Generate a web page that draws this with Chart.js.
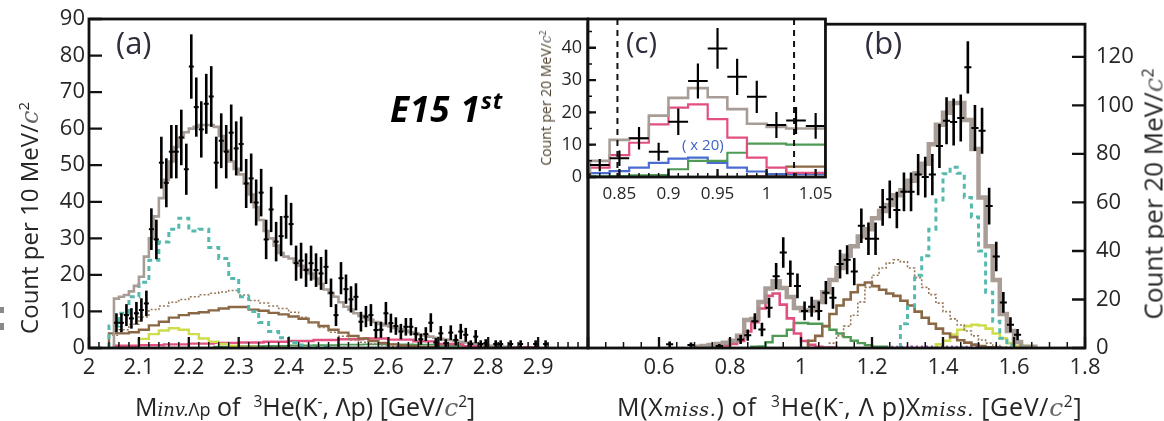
<!DOCTYPE html>
<html>
<head>
<meta charset="utf-8">
<script src="https://cdn.jsdelivr.net/npm/chart.js@4.4.1/dist/chart.umd.min.js"></script>
<style>
html, body { margin: 0; padding: 0; background: #fff; }
#page { position: relative; width: 1164px; height: 421px; overflow: hidden; font-family: 'Open Sans', sans-serif; color: #262626; }
.box { position: absolute; }
.lbl { position: absolute; white-space: nowrap; line-height: 1; }
.rot { position: absolute; white-space: nowrap; line-height: 1; transform: translate(-50%, -50%) rotate(-90deg); }
.mi { font-family: 'DejaVu Serif', serif; font-style: italic; }
sup { font-size: 0.62em; vertical-align: 0.55em; }
</style>
</head>
<body>
<div id="page">
  <div class="box" style="left:0;top:0;width:600px;height:421px"><canvas id="cA"></canvas></div>
  <div class="box" style="left:560px;top:0;width:604px;height:421px"><canvas id="cB"></canvas></div>
  <div class="box" style="left:500px;top:0;width:340px;height:215px"><canvas id="cC"></canvas></div>

  <div class="lbl" style="left:116px;top:27px;font-size:31px;color:#2e2e3c">(a)</div>
  <div class="lbl" style="left:865px;top:27px;font-size:31px;color:#2e2e3c">(b)</div>
  <div class="lbl" style="left:626px;top:27px;font-size:29px;color:#2e2e3c">(c)</div>
  <div class="lbl" style="left:390px;top:84px;font:italic 700 35px 'Open Sans', sans-serif;letter-spacing:1px;color:#000">E15 1<sup style="font-size:0.66em">st</sup></div>
  <div class="lbl" style="left:682px;top:137px;font-size:15px;color:#3f63c8">( x 20)</div>

  <div class="rot" style="left:29px;top:218px;font-size:24px">Count per 10 MeV/<span class="mi" style="color:#666">c</span><sup>2</sup></div>
  <div class="rot" style="left:1153px;top:194px;font-size:26px">Count per 20 MeV/<span class="mi" style="color:#666">c</span><sup>2</sup></div>
  <div class="rot" style="left:546px;top:98px;font-size:14px;color:#4a3c28">Count per 20 MeV/<span class="mi" style="color:#666">c</span><sup>2</sup></div>

  <div class="lbl" style="left:135px;top:394px;font-size:25px">M<span class="mi" style="font-size:18px">inv.</span><span style="font-size:18px">Λp</span> of &nbsp;<sup>3</sup>He(K<sup>-</sup>, Λp) [GeV/<span class="mi" style="color:#666">c</span><sup>2</sup>]</div>
  <div class="lbl" style="left:617px;top:394px;font-size:25px;letter-spacing:0.7px">M(X<span class="mi" style="font-size:19px">miss.</span>) of &nbsp;<sup>3</sup>He(K<sup>-</sup>, Λ p)X<span class="mi" style="font-size:19px">miss.</span> [GeV/<span class="mi" style="color:#666">c</span><sup>2</sup>]</div>

  <div class="box" style="left:0;top:307px;width:4px;height:6px;background:#8a8a8a"></div>
  <div class="box" style="left:0;top:323px;width:4px;height:7px;background:#8a8a8a"></div>
</div>
<script>
// ---- panel (a): invariant mass, 10 MeV bins ----
const aBinStart = 2.055, aBinW = 0.01;
const aCounts = [6.9, 6.9, 9.0, 8.1, 9.5, 10.4, 12.2, 32.5, 29.7, 50.7, 45.2, 53.7, 53.7, 57.6, 48.9, 77.0, 65.9, 59.8, 66.8, 68.8,
  50.7, 56.7, 53.7, 58.9, 54.6, 55.8, 45.0, 46.4, 39.8, 42.5, 29.7, 37.9, 29.1, 30.6, 35.9, 33.9, 23.2, 23.9, 21.3, 23.2,
  21.3, 20.4, 22.2, 15.1, 9.0, 19.1, 16.1, 13.3, 14.0, 7.2, 8.6, 9.0, 4.9, 5.0, 9.5, 6.8, 6.0, 4.5, 5.8, 5.8,
  3.8, 2.4, 3.8, 6.9, 1.5, 4.0, 1.3, 4.2, 2.2, 4.5, 3.6, 1.1, 3.1, 1.1, 1.3, null, 1.1, 1.1, null, 1.1,
  null, 1.1, null, null, 1.1, null, 1.1];
const aErrors = [2.6, 2.6, 3.0, 2.8, 3.1, 3.2, 3.5, 5.7, 5.4, 7.1, 6.7, 7.3, 7.3, 7.6, 7.0, 8.8, 8.1, 7.7, 8.2, 8.3,
  7.1, 7.5, 7.3, 7.7, 7.4, 7.5, 6.7, 6.8, 6.3, 6.5, 5.4, 6.2, 5.4, 5.5, 6.0, 5.8, 4.8, 4.9, 4.6, 4.8,
  4.6, 4.5, 4.7, 3.9, 3.0, 4.4, 4.0, 3.6, 3.7, 2.7, 2.9, 3.0, 2.2, 2.2, 3.1, 2.6, 2.4, 2.1, 2.4, 2.4,
  1.9, 1.5, 1.9, 2.6, 1.2, 2.0, 1.1, 2.0, 1.5, 2.1, 1.9, 1.0, 1.8, 1.0, 1.1, null, 1.0, 1.0, null, 1.0,
  null, 1.0, null, null, 1.0, null, 1.0];
const aTotal = [11, 13.5, 14, 14.5, 15.5, 17, 19.5, 25, 30, 36, 41, 46, 51, 55, 57.5, 59, 60, 60.5, 61, 61,
  61, 60.5, 58, 54, 51, 49, 47.5, 45, 42, 38.5, 35, 32, 30, 28, 26, 25, 24.5, 23.5, 22.5, 21.5,
  20.4, 19, 17.5, 16, 15, 14, 12.5, 11.3, 10.5, 9.5, 8.8, 8.2, 7.7, 7.1, 6.6, 6.2, 5.9, 5.5, 5.1, 4.7,
  4.3, 4.0, 3.7, 3.4, 3.1, 2.8, 2.5, 2.3, 2.1, 1.9, 1.7, 1.5, 1.3, 1.1, 0.9, 0.8, 0.6, 0.5, 0.4, 0.3, 0.2, 0.1];
const aCompStart = 2.05, aCompW = 0.02;
const aCyan = [2, 6, 9.5, 14, 18, 24, 29, 32.5, 35.5, 32, 32.5, 27.5, 24.5, 19, 14, 10, 7, 4.5, 2.8, 1.5, 0.8, 0.3];
const aBrownDot = [2, 3.5, 5, 6.5, 8.5, 10.5, 11.5, 12.5, 13.3, 14, 14.6, 15, 15.3, 15.7, 14.5, 13, 12.3, 11.5, 10.8, 9.8,
  8.4, 7, 5.6, 4.3, 3.2, 2.2, 1.6, 1.1, 0.8, 0.5, 0.3];
const aBrown = [3.5, 4, 4, 4.3, 5, 6.2, 7.2, 8.3, 9, 9.5, 9.8, 10.3, 10.8, 11.2, 11.2, 10.5, 10.2, 9.6, 9.2, 8.6,
  8, 7, 6, 5, 4.2, 3.3, 2.6, 1.9, 1.4, 1.0, 0.7, 0.5, 0.3];
const aYellowStart = 2.11;
const aYellow = [1.2, 2.5, 3.8, 4.8, 5.4, 5.0, 3.8, 2.6, 1.7, 1.1, 0.6, 0.3];
const aLowW = 0.05, aPinkStart = 2.075, aGreenStart = 2.275;
const aPink = [0.4, 0.6, 0.8, 1.0, 1.2, 1.4, 1.5, 1.7, 1.9, 2.2, 2.4, 2.6, 2.3, 1.8, 1.1, 0.5, 0.2];
const aGreen = [0.3, 0.4, 0.5, 0.6, 0.7, 0.8, 0.9, 1.0, 1.0, 0.9, 0.6, 0.3];

// ---- panel (b): missing mass, 20 MeV bins ----
const bBinW = 0.02;
const bMass = [0.63, 0.69, 0.77, 0.83, 0.85, 0.87, 0.89, 0.91, 0.93, 0.95, 0.97, 0.99, 1.01, 1.03, 1.05, 1.07, 1.09, 1.11, 1.13, 1.15,
  1.17, 1.19, 1.21, 1.23, 1.25, 1.27, 1.29, 1.31, 1.33, 1.35, 1.37, 1.39, 1.41, 1.43, 1.45, 1.47, 1.49, 1.51, 1.53, 1.55,
  1.57, 1.59, 1.61];
const bCounts = [1.5, 1.2, 0.8, 3.5, 5.3, 11, 7.6, 16.6, 29.6, 39.4, 30.6, 25.6, 15.3, 17, 15.3, 22.8, 20.7, 34.6, 36.4, 31.5,
  50.4, 45, 45, 58, 61.3, 56.9, 64.4, 64.4, 71.5, 70.5, 71.5, 83.3, 93.7, 93.2, 94.8, 115.7, 90.7, 89.6, 58.5, 37.7,
  18.8, 9.6, 5.5];
const bErrors = [1.2, 1.1, 0.9, 1.9, 2.3, 3.3, 2.8, 4.1, 5.4, 6.3, 5.5, 5.1, 3.9, 4.1, 3.9, 4.8, 4.5, 5.9, 6.0, 5.6,
  7.1, 6.7, 6.7, 7.6, 7.8, 7.5, 8.0, 8.0, 8.5, 8.4, 8.5, 9.1, 9.7, 9.7, 9.7, 10.8, 9.5, 9.5, 7.6, 6.1,
  4.3, 3.1, 2.3];
const bGrayStart = 0.71;
const bGray = [0.3, 0.5, 0.8, 1.2, 1.6, 2.2, 3, 5, 11.5, 12, 19, 24.5, 27.5, 24.7, 21, 16.5, 15.5, 15.5, 19, 23,
  28, 33, 38, 42, 46, 49, 53.5, 56.5, 59, 63, 65, 69, 72, 76, 84, 92, 97, 101, 101, 94,
  82, 62, 42, 28, 14, 7, 2.5, 0.5];
const bPinkStart = 0.77;
const bPink = [0.3, 0.6, 1.0, 1.7, 2.9, 6.8, 10.6, 16.3, 21.5, 22.5, 17.9, 12.2, 6, 2.9, 1.3, 0.5, 0.2];
const bGreenStart = 0.87;
const bGreen = [0.3, 0.5, 0.6, 2.4, 5, 5, 7.5, 10.3, 10.3, 10, 10, 9, 7.5, 6, 4.5, 3, 2, 1.2, 0.5];
const bBrownStart = 1.03;
const bBrown = [0.5, 3, 5, 9, 14, 17.5, 20, 23, 26, 27, 25.5, 24, 22.5, 21.5, 19.5, 17.5, 15, 12.5, 10, 8,
  6, 4.5, 3.2, 2.2, 1.4, 0.8, 0.3];
const bBrownDotStart = 1.09;
const bBrownDot = [0.5, 2, 5, 9, 13.5, 19, 25, 30, 33, 35, 36.4, 35.5, 33, 29, 25, 22, 18.5, 15, 12, 9.5,
  7, 5, 3.3, 2, 1, 0.3];
const bCyanStart = 1.29;
const bCyan = [0.5, 10, 17, 30, 38, 49, 61, 71.8, 74.5, 72, 62, 54, 40, 23, 11, 4, 1.4];
const bYellowStart = 1.39;
const bYellow = [0.5, 1.5, 3, 5.5, 7.5, 9, 9.6, 9.3, 8, 6, 4, 2, 0.8];
const bPurpleStart = 1.25, bPurpleW = 0.04;
const bPurple = [0.5, 0.6, 0.6, 0.7, 0.7, 0.7, 0.6, 0.5, 0.4, 0.3];

// ---- inset (c): zoom of the low missing-mass peak ----
const cStart = 0.83, cBinW = 0.02;
const cCounts = [3.7, 5.8, 12, 7.8, 17.1, 29.7, 39.8, 31, 24.8, 16.1, 17.5, 15.8];
const cErrors = [1.9, 2.4, 3.5, 2.8, 4.1, 5.4, 6.3, 5.6, 5.0, 4.0, 4.2, 4.0];
const cGray = [3, 5, 11.5, 12, 19, 24.5, 27.5, 24.7, 21, 16.5, 15.5, 15];
const cPink = [1.7, 2.9, 6.8, 10.6, 16.3, 21.5, 22.5, 17.9, 12.2, 6, 2.9, 1.3];
const cGreen = [0.2, 0.2, 0.3, 0.5, 0.6, 2.4, 5, 5, 7.5, 10.3, 10.3, 10];
const cBlue = [1.2, 1.2, 1.8, 2.9, 4.4, 5.7, 6.0, 4.4, 2.9, 1.7, 0.9, 0.9];
const cBrown = [0, 0, 0, 0, 0, 0, 0, 0, 0, 0.3, 0.5, 3.2];
const cCuts = [0.848, 1.028];

// colours
const GRAY = '#a89d96', CYAN = '#56b9ae', BROWN = '#8a6845', BROWNDOT = '#96785a',
  YELLOW = '#cfdc4c', PINK = '#e2507f', GREEN = '#4f9b56', BLUE = '#4a6cd0', PURPLE = '#9a55b5';

Chart.defaults.font.family = "'Open Sans', sans-serif";
Chart.defaults.color = '#262626';

// histogram outline from bin centres
function hist(start, w, vals) {
  var pts = [{x: start - w / 2, y: 0}];
  vals.forEach(function (v, i) { pts.push({x: start - w / 2 + i * w, y: v}); });
  var end = start - w / 2 + vals.length * w;
  pts.push({x: end, y: vals[vals.length - 1]});
  pts.push({x: end, y: 0});
  return pts;
}
function line(pts, color, width, dash) {
  return {data: pts, borderColor: color, borderWidth: width, borderDash: dash || [], stepped: 'after',
    pointRadius: 0, fill: false, tension: 0, yAxisID: 'y'};
}
function points(xs, ys, errs, w, lw) {
  return {data: xs.map(function (x, i) { return {x: x, y: ys[i]}; }), showLine: false, pointRadius: 0,
    errors: errs, binW: w, errWidth: lw, yAxisID: 'y'};
}

var framePlugin = {
  id: 'frame',
  beforeDatasetsDraw: function (chart, args, o) {
    if (!o.fill) return;
    var a = chart.chartArea, ctx = chart.ctx;
    ctx.save(); ctx.fillStyle = o.fill; ctx.fillRect(a.left, a.top, a.width, a.height); ctx.restore();
  },
  afterDatasetsDraw: function (chart, args, o) {
    var ctx = chart.ctx, a = chart.chartArea, xs = chart.scales.x, ys = chart.scales.y;
    ctx.save();
    ctx.beginPath(); ctx.rect(a.left, a.top, a.width, a.height); ctx.clip();
    // error crosses
    chart.data.datasets.forEach(function (ds) {
      if (!ds.errors) return;
      ctx.strokeStyle = '#000';
      ds.data.forEach(function (p, i) {
        if (p.y == null) return;
        var e = ds.errors[i], px = xs.getPixelForValue(p.x), py = ys.getPixelForValue(p.y);
        ctx.lineWidth = ds.errWidth;
        ctx.beginPath();
        ctx.moveTo(px, ys.getPixelForValue(p.y - e)); ctx.lineTo(px, ys.getPixelForValue(p.y + e));
        ctx.stroke();
        ctx.lineWidth = 2;
        ctx.beginPath();
        ctx.moveTo(xs.getPixelForValue(p.x - ds.binW / 2), py); ctx.lineTo(xs.getPixelForValue(p.x + ds.binW / 2), py);
        ctx.stroke();
      });
    });
    // dashed cut lines
    (o.cuts || []).forEach(function (c) {
      var px = xs.getPixelForValue(c);
      ctx.strokeStyle = '#111'; ctx.lineWidth = 2; ctx.setLineDash([6, 5]);
      ctx.beginPath(); ctx.moveTo(px, a.top); ctx.lineTo(px, a.bottom); ctx.stroke();
      ctx.setLineDash([]);
    });
    ctx.restore();

    // inward ticks
    ctx.save();
    ctx.strokeStyle = '#111';
    function xTicks(step, len) {
      for (var k = Math.ceil(xs.min / step - 1e-6); k * step <= xs.max + 1e-9; k++) {
        var px = xs.getPixelForValue(k * step);
        ctx.moveTo(px, a.bottom); ctx.lineTo(px, a.bottom - len);
      }
    }
    function yTicks(step, len) {
      for (var k = Math.ceil(ys.min / step - 1e-6); k * step <= ys.max + 1e-9; k++) {
        var py = ys.getPixelForValue(k * step);
        if (o.right) { ctx.moveTo(a.right, py); ctx.lineTo(a.right - len, py); }
        else { ctx.moveTo(a.left, py); ctx.lineTo(a.left + len, py); }
      }
    }
    ctx.lineWidth = 1.5;
    ctx.beginPath();
    if (o.xMinor) xTicks(o.xMinor, o.minorLen);
    if (o.yMinor) yTicks(o.yMinor, o.minorLen);
    ctx.stroke();
    ctx.lineWidth = 2.3;
    ctx.beginPath();
    xTicks(o.xMajor, o.majorLen);
    yTicks(o.yMajor, o.yLen);
    ctx.stroke();
    ctx.lineWidth = o.lw;
    ctx.strokeRect(a.left, a.top, a.width, a.height);
    ctx.restore();
  }
};

function axisOpts(min, max, step, fmt, pad, size, fit) {
  return {type: 'linear', min: min, max: max,
    ticks: {stepSize: step, autoSkip: false, maxRotation: 0, minRotation: 0, includeBounds: false, padding: pad,
      font: {size: size}, color: '#262626', callback: fmt},
    grid: {display: false, drawTicks: false}, border: {display: false}, afterFit: fit};
}
function baseOpts(pad, scales, frame) {
  return {responsive: true, maintainAspectRatio: false, animation: false, devicePixelRatio: 1,
    layout: {padding: pad}, scales: scales,
    plugins: {legend: {display: false}, tooltip: {enabled: false}, frame: frame}};
}

// panel (a)
new Chart(document.getElementById('cA'), {
  type: 'line',
  data: {datasets: [
    points(aCounts.map(function (v, i) { return aBinStart + i * aBinW; }), aCounts, aErrors, aBinW, 2.6),
    line(hist(aBinStart, aBinW, aTotal), GRAY, 2.6),
    line(hist(aCompStart, aCompW, aCyan), CYAN, 3, [5, 4]),
    line(hist(aCompStart, aCompW, aBrownDot), BROWNDOT, 1.5, [2, 2]),
    line(hist(aCompStart, aCompW, aBrown), BROWN, 2.4),
    line(hist(aYellowStart, aCompW, aYellow), YELLOW, 2.4),
    line(hist(aPinkStart, aLowW, aPink), PINK, 2.4),
    line(hist(aGreenStart, aLowW, aGreen), GREEN, 1.8)
  ]},
  options: baseOpts({top: 19, right: 12, left: 0, bottom: 0}, {
    x: axisOpts(2, 3, 0.1, function (v) { return v > 2.95 ? '' : String(+v.toFixed(1)); }, 7, 22,
      function (s) { s.height = 73; }),
    y: axisOpts(0, 90, 10, function (v) { return String(v); }, 4, 22, function (s) { s.width = 89; })
  }, {xMajor: 0.1, xMinor: 0.02, majorLen: 11, minorLen: 6, yMajor: 10, yLen: 13, lw: 2.8}),
  plugins: [framePlugin]
});

// panel (b)
new Chart(document.getElementById('cB'), {
  type: 'line',
  data: {datasets: [
    points(bMass, bCounts, bErrors, bBinW, 2.6),
    line(hist(bGrayStart, bBinW, bGray), 'rgba(160,148,140,0.9)', 4.5),
    line(hist(bCyanStart, bBinW, bCyan), CYAN, 3, [5, 4]),
    line(hist(bBrownDotStart, bBinW, bBrownDot), BROWNDOT, 1.6, [2, 2]),
    line(hist(bBrownStart, bBinW, bBrown), BROWN, 2.6),
    line(hist(bYellowStart, bBinW, bYellow), YELLOW, 2.6),
    line(hist(bPinkStart, bBinW, bPink), PINK, 2.6),
    line(hist(bGreenStart, bBinW, bGreen), GREEN, 2.4),
    line(hist(bPurpleStart, bPurpleW, bPurple), PURPLE, 1.6, [2, 3])
  ]},
  options: baseOpts({top: 19, right: 0, left: 28, bottom: 0}, {
    x: axisOpts(0.4, 1.8, 0.2, function (v) { return v < 0.45 ? '' : String(+v.toFixed(1)); }, 7, 22,
      function (s) { s.height = 73; }),
    y: Object.assign(axisOpts(0, 133.5, 20, function (v) { return String(v); }, 11, 22,
      function (s) { s.width = 79; }), {position: 'right'})
  }, {xMajor: 0.2, xMinor: 0.05, majorLen: 11, minorLen: 6, yMajor: 20, yLen: 13, lw: 2.8, right: true}),
  plugins: [framePlugin]
});

// inset (c)
new Chart(document.getElementById('cC'), {
  type: 'line',
  data: {datasets: [
    points(cCounts.map(function (v, i) { return cStart + i * cBinW; }), cCounts, cErrors, cBinW, 2.2),
    line(hist(cStart, cBinW, cGray), GRAY, 2.6),
    line(hist(cStart, cBinW, cPink), PINK, 2.2),
    line(hist(cStart, cBinW, cGreen), GREEN, 2.2),
    line(hist(cStart, cBinW, cBlue), BLUE, 2.2),
    line(hist(cStart, cBinW, cBrown), BROWN, 2.2)
  ]},
  options: baseOpts({top: 19, right: 13, left: 0, bottom: 0}, {
    x: axisOpts(0.818, 1.06, 0.05, function (v) { return String(+v.toFixed(2)); }, 7, 17,
      function (s) { s.height = 38; }),
    y: axisOpts(0, 48.9, 10, function (v) { return String(v); }, 6, 18, function (s) { s.width = 88; })
  }, {fill: '#fff', cuts: cCuts, xMajor: 0.05, xMinor: 0.01, majorLen: 8, minorLen: 4, yMajor: 10, yMinor: 5, yLen: 8, lw: 2.8}),
  plugins: [framePlugin]
});
</script>
</body>
</html>
